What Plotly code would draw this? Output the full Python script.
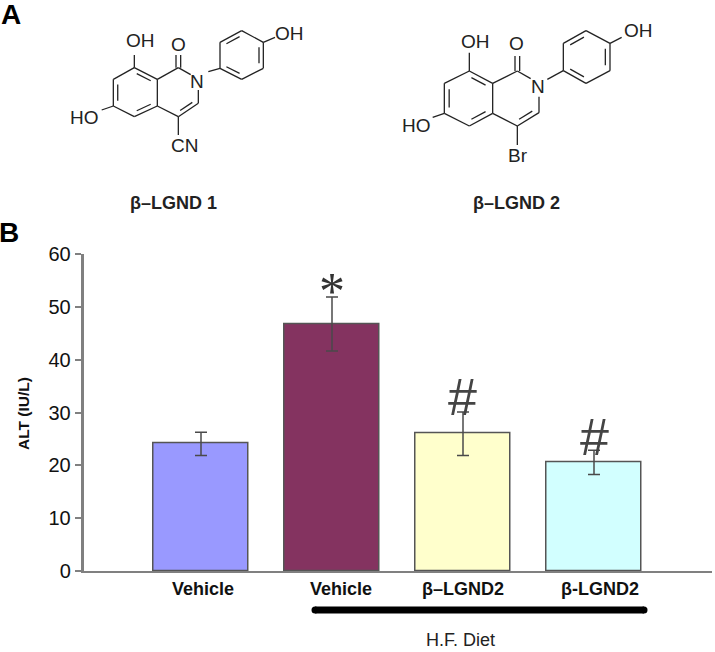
import plotly.graph_objects as go

W, H = 715, 652
categories = ["Vehicle", "Vehicle", "β–LGND2", "β-LGND2"]
alt_values = [24.1, 46.8, 26.0, 20.6]
alt_errors = [2.2, 5.1, 4.1, 2.3]
bar_colors = ["#9999FF", "#843360", "#FFFFCC", "#D2FFFF"]
y_ticks = [0, 10, 20, 30, 40, 50, 60]

# pixel layout of the plot area
L, R, T, B = 83.5, 712, 254.3, 571
bar_x = [1, 2, 3, 4]
px_per_unit = 131.0
xr = [1 + (L - 201) / px_per_unit, 1 + (R - 201) / px_per_unit]
label_x = [1 + (203 - 201) / px_per_unit, 1 + (341 - 201) / px_per_unit,
           1 + (463 - 201) / px_per_unit, 1 + (600 - 201) / px_per_unit]

# chemical structures, in zoomed pixel coordinates (3x)
mol1 = dict(ox=0, a=dict(
    C8=(403, 203), C7=(340, 238), C6=(340, 318), C5=(403, 350), C4a=(472, 318), C8a=(472, 238),
    C1=(535, 203), Cn=(572, 224), Nb=(595, 270), C3=(595, 310), C4=(535, 350),
    Oa=(535, 165), OH8=(403, 165), HO=(305, 330), CN=(535, 405), Nr=(625, 215),
    P1=(660, 205), P2=(660, 127), P3=(725, 92), P4=(790, 127), P5=(790, 205), P6=(725, 238), OHp=(825, 112)),
    labels=[("OH", 422, 122), ("O", 535, 132), ("N", 590, 243), ("HO", 252, 352), ("CN", 552, 437), ("OH", 868, 100)])
mol2 = dict(ox=360, a=dict(
    C8=(328, 213), C7=(253, 250), C6=(253, 340), C5=(328, 378), C4a=(398, 340), C8a=(398, 250),
    C1=(472, 213), Cn=(512, 236), Nb=(537, 290), C3=(537, 338), C4=(472, 378),
    Oa=(472, 168), OH8=(328, 158), HO=(218, 352), CN=(472, 435), Nr=(562, 238),
    P1=(610, 212), P2=(610, 130), P3=(678, 92), P4=(750, 130), P5=(750, 212), P6=(678, 250), OHp=(785, 112)),
    labels=[("OH", 345, 123), ("O", 470, 130), ("N", 535, 258), ("HO", 168, 375), ("Br", 475, 465), ("OH", 835, 92)])
bonds = [("C8", "C7"), ("C7", "C6"), ("C6", "C5"), ("C5", "C4a"), ("C4a", "C8a"), ("C8a", "C8"),
         ("C8a", "C1"), ("C1", "Cn"), ("Nb", "C3"), ("C3", "C4"), ("C4", "C4a"),
         ("C8", "OH8"), ("C6", "HO"), ("C4", "CN"), ("Nr", "P1"),
         ("P1", "P2"), ("P2", "P3"), ("P3", "P4"), ("P4", "P5"), ("P5", "P6"), ("P6", "P1"), ("P4", "OHp")]
inner = [("C7", "C6"), ("C5", "C4a"), ("C8", "C8a"), ("C3", "C4"), ("P2", "P3"), ("P4", "P5"), ("P6", "P1")]


def mol_lines(m):
    xs, ys = [], []
    a = m["a"]
    ox = m["ox"]
    for p, q in bonds:
        xs += [ox + a[p][0] / 3, ox + a[q][0] / 3, None]
        ys += [a[p][1] / 3, a[q][1] / 3, None]
    # carbonyl double bond
    for d in (-7, 7):
        xs += [ox + (a["C1"][0] + d) / 3, ox + (a["Oa"][0] + d) / 3, None]
        ys += [a["C1"][1] / 3, a["Oa"][1] / 3, None]
    # inner lines of double bonds
    for p, q in inner:
        if p in ("C7", "C5", "C8"):
            cx = (a["C7"][0] + a["C4a"][0]) / 2; cy = (a["C8"][1] + a["C5"][1]) / 2
        elif p == "C3":
            cx = (a["C8a"][0] + a["C3"][0]) / 2; cy = (a["C1"][1] + a["C4"][1]) / 2
        else:
            cx = (a["P2"][0] + a["P4"][0]) / 2; cy = (a["P3"][1] + a["P6"][1]) / 2
        f, t = 0.8, 0.12
        x1, y1 = a[p]; x2, y2 = a[q]
        sx, ex = x1 + (x2 - x1) * t, x1 + (x2 - x1) * (1 - t)
        sy, ey = y1 + (y2 - y1) * t, y1 + (y2 - y1) * (1 - t)
        xs += [ox + (cx + (sx - cx) * f) / 3, ox + (cx + (ex - cx) * f) / 3, None]
        ys += [(cy + (sy - cy) * f) / 3, (cy + (ey - cy) * f) / 3, None]
    return xs, ys


fig = go.Figure()
fig.add_trace(go.Bar(
    x=bar_x, y=alt_values, width=0.72,
    marker=dict(color=bar_colors, line=dict(color="#555555", width=1.5)),
    error_y=dict(type="data", array=alt_errors, color="#4a4a4a", thickness=1.5, width=6),
    xaxis="x", yaxis="y", showlegend=False))

for m in (mol1, mol2):
    xs, ys = mol_lines(m)
    fig.add_trace(go.Scatter(x=xs, y=ys, mode="lines", line=dict(color="#222222", width=1.3),
                             xaxis="x2", yaxis="y2", showlegend=False, hoverinfo="skip"))
fig.add_trace(go.Scatter(x=[315, 644], y=[610, 610], mode="lines+markers",
                         line=dict(color="black", width=7), marker=dict(color="black", size=7),
                         xaxis="x2", yaxis="y2", showlegend=False, hoverinfo="skip"))

ann = []


def text(s, x, y, size, bold=False, color="#111111", angle=0, family="Liberation Sans"):
    ann.append(dict(text=f"<b>{s}</b>" if bold else s, x=x, y=y, xref="x2", yref="y2",
                    showarrow=False, xanchor="center", yanchor="middle", textangle=angle,
                    font=dict(family=family, size=size, color=color)))


for m in (mol1, mol2):
    for s, x, y in m["labels"]:
        text(s, m["ox"] + x / 3, y / 3, 19, color="#222222")
text("A", 11, 14, 28, True, "black")
text("B", 9, 232, 28, True, "black")
text("β–LGND 1", 173, 203, 18, True, "#222222")
text("β–LGND 2", 516, 203, 18, True, "#222222")
text("ALT (IU/L)", 23, 414, 15.5, True, "#111111", -90)
text("H.F. Diet", 460, 640, 18, False, "#222222")
text("*", 332, 291, 52, False, "#333333", family="Liberation Serif")
text("#", 462, 397, 52, False, "#444444")
text("#", 594, 437, 52, False, "#444444")

fig.update_layout(
    width=W, height=H, margin=dict(l=0, r=0, t=0, b=0, autoexpand=False), autosize=False,
    paper_bgcolor="white", plot_bgcolor="rgba(0,0,0,0)", bargap=0,
    annotations=ann,
    xaxis=dict(domain=[L / W, R / W], range=xr, showgrid=False, zeroline=False,
               showline=True, linecolor="#808080", linewidth=1.5, ticks="",
               tickvals=label_x, ticktext=categories, tickangle=0, ticklabelstandoff=1,
               tickfont=dict(family="Liberation Sans", size=18, color="#111111", weight="bold"),
               anchor="y"),
    yaxis=dict(domain=[(H - B) / H, (H - T) / H], range=[0, 60], showgrid=False, zeroline=False,
               showline=True, linecolor="#808080", linewidth=2.5, ticks="outside", ticklen=6,
               tickwidth=1.5, tickcolor="#808080", tickvals=y_ticks,
               tickfont=dict(family="Liberation Sans", size=20, color="#111111"), anchor="x"),
    xaxis2=dict(domain=[0, 1], range=[0, W], visible=False, anchor="y2"),
    yaxis2=dict(domain=[0, 1], range=[H, 0], visible=False, anchor="x2"),
)
fig.write_html("out.html", config={"displayModeBar": False},
               post_script="document.body.style.margin='0';")
